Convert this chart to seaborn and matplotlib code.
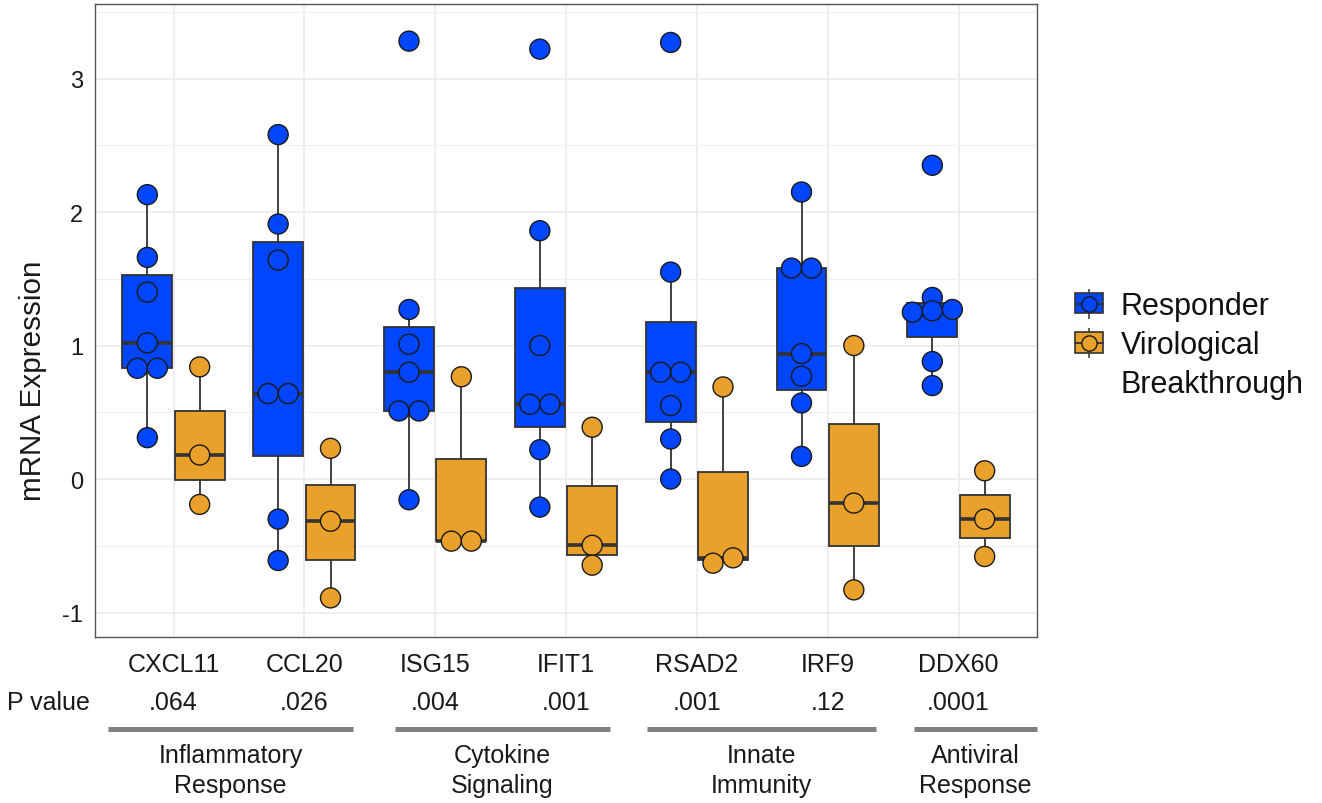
import numpy as np
import pandas as pd
import matplotlib
matplotlib.use("Agg")
import matplotlib.pyplot as plt
import matplotlib.transforms as mtrans
from matplotlib.patches import Patch
from matplotlib.lines import Line2D
from matplotlib.legend_handler import HandlerTuple
import seaborn as sns

# ---------------- data ----------------
genes = ["CXCL11", "CCL20", "ISG15", "IFIT1", "RSAD2", "IRF9", "DDX60"]
p_values = [".064", ".026", ".004", ".001", ".001", ".12", ".0001"]
groups = ["Responder", "Virological Breakthrough"]

responder_cxcl11 = [2.13, 1.66, 1.40, 1.02, 0.83, 0.83, 0.31]
responder_ccl20 = [2.58, 1.91, 1.64, 0.64, 0.64, -0.30, -0.61]
responder_isg15 = [3.28, 1.27, 1.01, 0.80, 0.51, 0.51, -0.155]
responder_ifit1 = [3.22, 1.86, 1.00, 0.56, 0.56, 0.22, -0.21]
responder_rsad2 = [3.27, 1.55, 0.80, 0.80, 0.55, 0.30, 0.00]
responder_irf9 = [2.15, 1.58, 1.58, 0.94, 0.77, 0.57, 0.17]
responder_ddx60 = [2.35, 1.36, 1.27, 1.26, 1.25, 0.88, 0.70]

vb_cxcl11 = [0.84, 0.18, -0.19]
vb_ccl20 = [0.23, -0.316, -0.89]
vb_isg15 = [0.766, -0.465, -0.465]
vb_ifit1 = [0.388, -0.496, -0.645]
vb_rsad2 = [0.69, -0.59, -0.63]
vb_irf9 = [1.00, -0.18, -0.83]
vb_ddx60 = [0.062, -0.30, -0.58]

category_groups = ["Inflammatory\nResponse", "Cytokine\nSignaling",
                   "Innate\nImmunity", "Antiviral\nResponse"]

responder = [responder_cxcl11, responder_ccl20, responder_isg15, responder_ifit1,
             responder_rsad2, responder_irf9, responder_ddx60]
vb = [vb_cxcl11, vb_ccl20, vb_isg15, vb_ifit1, vb_rsad2, vb_irf9, vb_ddx60]

rows = []
for g, vals in zip(genes, responder):
    rows += [(g, groups[0], v) for v in vals]
for g, vals in zip(genes, vb):
    rows += [(g, groups[1], v) for v in vals]
df = pd.DataFrame(rows, columns=["gene", "group", "value"])

# ---------------- style ----------------
BLUE = "#0046FF"
ORANGE = "#E9A12B"
palette = {groups[0]: BLUE, groups[1]: ORANGE}
EDGE = "#333333"
TXT = "#1a1a1a"
FS = 18
DOT = 14.4  # marker diameter in points

sns.set_theme(style="white")
plt.rcParams["font.family"] = ["Liberation Sans", "DejaVu Sans"]

W, H = 1322, 804
fig = plt.figure(figsize=(W / 100, H / 100), dpi=100)
ax = fig.add_axes([95 / W, 1 - 638 / H, 942 / W, 633 / H])

sns.boxplot(data=df, x="gene", y="value", hue="group", order=genes,
            hue_order=groups, palette=palette, saturation=1, width=0.8,
            gap=0.05, showfliers=False, showcaps=False, linecolor=EDGE,
            linewidth=1.3, medianprops=dict(color=EDGE, linewidth=2.6),
            legend=False, ax=ax, zorder=2)

n_coll = len(ax.collections)
sns.stripplot(data=df, x="gene", y="value", hue="group", order=genes,
              hue_order=groups, palette=palette, dodge=True, jitter=False,
              size=DOT, edgecolor=TXT, linewidth=1.0, legend=False, ax=ax,
              zorder=3)

ax.set_xlim(-0.6, 6.6)
ax.set_ylim(-1.183, 3.558)

# dot-plot style layout: tied values are set side by side, centred
px_per_unit = ax.transData.transform((1, 0))[0] - ax.transData.transform((0, 0))[0]
d = DOT * fig.dpi / 72 / px_per_unit
for coll in ax.collections[n_coll:]:
    offs = np.array(coll.get_offsets(), dtype=float)
    if len(offs) == 0:
        continue
    xr = np.round(offs[:, 0], 4)
    for xc in np.unique(xr):
        idx = np.where(xr == xc)[0]
        idx = idx[np.argsort(offs[idx, 1])]
        clusters, cur = [], [idx[0]]
        for a, b in zip(idx[:-1], idx[1:]):
            if offs[b, 1] - offs[a, 1] < 0.06:
                cur.append(b)
            else:
                clusters.append(cur)
                cur = [b]
        clusters.append(cur)
        for cl in clusters:
            n = len(cl)
            for k, j in enumerate(cl):
                offs[j, 0] = xc + (k - (n - 1) / 2) * d
    coll.set_offsets(offs)

ax.set_yticks([-1, 0, 1, 2, 3])
ax.set_yticklabels(["-1", "0", "1", "2", "3"])
ax.set_yticks(np.arange(-0.5, 3.6, 1.0), minor=True)
ax.set_xticks(range(len(genes)))
ax.set_xticklabels(genes)
ax.set_xlabel("")
ax.set_ylabel("")

ax.set_axisbelow(True)
ax.grid(which="major", color="#EBEBEB", linewidth=1.2)
ax.grid(which="minor", axis="y", color="#F0F0F0", linewidth=0.9)
for s in ax.spines.values():
    s.set_visible(True)
    s.set_color("#555555")
    s.set_linewidth(1.0)

ax.tick_params(axis="both", which="major", length=5, width=1, color="#555555",
               labelsize=FS, labelcolor=TXT)
ax.tick_params(axis="x", pad=6)
ax.tick_params(axis="y", pad=3.5, labelsize=17)
ax.tick_params(which="minor", length=0)

fig.text(33 / W, 1 - 381 / H, "mRNA Expression", rotation=90, ha="center",
         va="center", fontsize=21.3, color=TXT)

# P value row
trans = mtrans.blended_transform_factory(ax.transData, ax.transAxes)
fig.text(90 / W, 1 - 703 / H, "P value", ha="right", va="center",
         fontsize=FS, color=TXT)
for i, p in enumerate(p_values):
    ax.text(i, (638 - 703) / 633, p, transform=trans, ha="center",
            va="center", fontsize=FS, color=TXT)

# group bars and labels
bar_spans = [(-0.5, 1.37), (1.69, 3.34), (3.62, 5.37), (5.66, 6.6)]
for (x0, x1), lab in zip(bar_spans, category_groups):
    ax.plot([x0, x1], [(638 - 730) / 633] * 2, transform=trans, color="#7f7f7f",
            linewidth=3.6, solid_capstyle="butt", clip_on=False)
    ax.text((x0 + x1) / 2, (638 - 771) / 633, lab, transform=trans,
            ha="center", va="center", fontsize=FS, linespacing=1.3,
            color=TXT)

# legend (second label wraps onto a line of its own, with no key)
handles = []
for c in [BLUE, ORANGE]:
    vline = Line2D([], [], marker="|", markersize=22, color="#444444",
                   markeredgewidth=1.2, linestyle="none")
    patch = Patch(facecolor=c, edgecolor=EDGE, linewidth=1.2)
    hline = Line2D([], [], color=EDGE, linewidth=1.3)
    dot = Line2D([], [], marker="o", markersize=11, markerfacecolor=c,
                 markeredgecolor=TXT, markeredgewidth=1.0,
                 linestyle="none")
    handles.append((vline, patch, hline, dot))
blank = Line2D([], [], linestyle="none")
leg = ax.legend(handles + [blank], ["Responder", "Virological", "Breakthrough"],
                handler_map={tuple: HandlerTuple(ndivide=1, pad=0)},
                loc="upper left", bbox_to_anchor=(1075 / W, 1 - 292 / H),
                bbox_transform=fig.transFigure, frameon=False, fontsize=22,
                handlelength=0.9, handleheight=0.65, handletextpad=0.6,
                borderpad=0, borderaxespad=0, labelspacing=0.3)
for t in leg.get_texts():
    t.set_color("#111111")

fig.savefig("out.png", dpi=100)
